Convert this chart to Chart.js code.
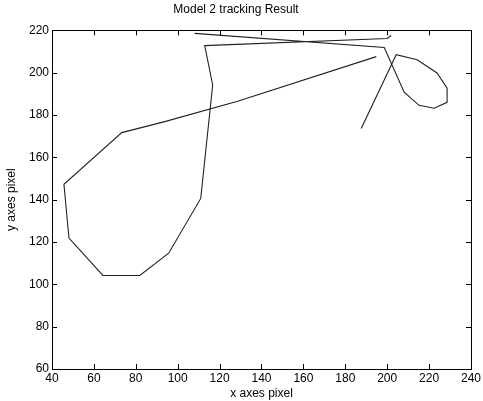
<!DOCTYPE html>
<html>
<head>
<meta charset="utf-8">
<script src="https://cdn.jsdelivr.net/npm/chart.js@4/dist/chart.umd.min.js"></script>
<style>
  html, body { margin: 0; padding: 0; background: #fff; }
  #chart { display: block; }
</style>
</head>
<body>
<canvas id="chart" width="483" height="401"></canvas>
<script>
// valores (pixeles de la imagen)
const chartTitle = "Model 2 tracking Result";
const xLabel = "x axes pixel";
const yLabel = "y axes pixel";
const xTicks = [40, 60, 80, 100, 120, 140, 160, 180, 200, 220, 240];
const yTicks = [60, 80, 100, 120, 140, 160, 180, 200, 220];

// trayectoria: dos tramos separados por null
const pathX = [201.9, 200.0, 112.9, 116.7, 111.0, 95.7, 81.9, 64.3, 48.1, 45.7, 73.3, 93.8, 128.6, 194.8,
               null,
               187.6, 204.3, 214.3, 223.8, 228.6, 228.6, 222.4, 215.2, 208.1, 198.6, 108.1];
const pathY = [217.6, 216.2, 212.8, 194.2, 140.6, 114.7, 104.2, 104.2, 121.9, 147.3, 171.7, 176.9, 186.5, 207.6,
               null,
               173.6, 208.5, 206.1, 199.9, 192.7, 186.0, 183.2, 184.6, 190.8, 211.9, 218.6];

const puntos = pathX.map((x, i) => (x === null ? { x: NaN, y: NaN } : { x: x, y: pathY[i] }));

// marco y marcas hacia dentro, estilo matlab
const marcoPlugin = {
    id: 'marco',
    afterDraw(chart) {
        const { ctx, chartArea: { left, right, top, bottom }, scales: { x, y } } = chart;
        ctx.save();
        ctx.strokeStyle = '#000';
        ctx.lineWidth = 1;
        ctx.strokeRect(Math.round(left) + 0.5, Math.round(top) + 0.5, Math.round(right - left), Math.round(bottom - top));
        ctx.beginPath();
        xTicks.forEach(v => {
            const px = Math.round(x.getPixelForValue(v)) + 0.5;
            ctx.moveTo(px, bottom); ctx.lineTo(px, bottom - 5);
            ctx.moveTo(px, top); ctx.lineTo(px, top + 5);
        });
        yTicks.forEach(v => {
            const py = Math.round(y.getPixelForValue(v)) + 0.5;
            ctx.moveTo(left, py); ctx.lineTo(left + 5, py);
            ctx.moveTo(right, py); ctx.lineTo(right - 5, py);
        });
        ctx.stroke();
        ctx.restore();
    }
};

const fuente = { family: "'Liberation Sans', Arial, sans-serif", size: 12 };

new Chart(document.getElementById('chart'), {
    type: 'scatter',
    data: {
        datasets: [{
            data: puntos,
            showLine: true,
            spanGaps: false,
            borderColor: '#222',
            borderWidth: 1.1,
            pointRadius: 0,
            tension: 0
        }]
    },
    options: {
        responsive: false,
        animation: false,
        layout: { padding: { left: 0, right: 11, top: 0, bottom: 0 } },
        plugins: {
            legend: { display: false },
            tooltip: { enabled: false },
            title: {
                display: true,
                text: chartTitle,
                color: '#000',
                font: { family: fuente.family, size: 12, weight: 'normal' },
                padding: { top: 2, bottom: 14 }
            }
        },
        scales: {
            x: {
                type: 'linear',
                min: 40, max: 240,
                afterBuildTicks: s => { s.ticks = xTicks.map(v => ({ value: v })); },
                afterFit: s => { s.height = 32; },
                grid: { display: false, drawTicks: false },
                border: { display: false },
                ticks: { color: '#000', font: fuente, padding: 2, maxRotation: 0 },
                title: { display: true, text: xLabel, color: '#000', font: fuente, padding: 0 }
            },
            y: {
                type: 'linear',
                min: 60, max: 220,
                afterBuildTicks: s => { s.ticks = yTicks.map(v => ({ value: v })); },
                afterFit: s => { s.width = 52; },
                grid: { display: false, drawTicks: false },
                border: { display: false },
                ticks: { color: '#000', font: fuente, padding: 3 },
                title: { display: true, text: yLabel, color: '#000', font: fuente, padding: { top: 4, bottom: 0 } }
            }
        }
    },
    plugins: [marcoPlugin]
});
</script>
</body>
</html>
